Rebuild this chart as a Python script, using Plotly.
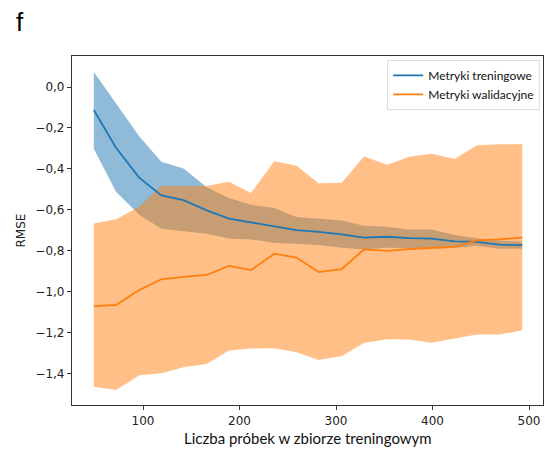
import plotly.graph_objects as go

train_sizes = [49, 72, 96, 119, 142, 166, 189, 212, 236, 259, 282, 306, 329, 353, 376, 399, 423, 446, 469, 493]

train_mean = [-0.112, -0.297, -0.443, -0.530, -0.553, -0.603, -0.643, -0.661, -0.679, -0.700,
              -0.708, -0.720, -0.736, -0.732, -0.739, -0.741, -0.755, -0.757, -0.771, -0.773]
train_upper = [0.074, -0.080, -0.240, -0.365, -0.398, -0.490, -0.542, -0.576, -0.592, -0.636,
               -0.646, -0.653, -0.678, -0.683, -0.696, -0.696, -0.724, -0.740, -0.751, -0.756]
train_lower = [-0.302, -0.512, -0.625, -0.693, -0.706, -0.718, -0.741, -0.745, -0.762, -0.769,
               -0.773, -0.786, -0.794, -0.786, -0.786, -0.788, -0.787, -0.776, -0.791, -0.791]

val_mean = [-1.071, -1.066, -0.993, -0.940, -0.928, -0.919, -0.875, -0.895, -0.815, -0.834,
            -0.905, -0.890, -0.794, -0.801, -0.792, -0.787, -0.782, -0.750, -0.745, -0.736]
val_upper = [-0.667, -0.647, -0.585, -0.484, -0.484, -0.484, -0.463, -0.518, -0.363, -0.385,
             -0.470, -0.468, -0.339, -0.380, -0.341, -0.326, -0.352, -0.285, -0.280, -0.280]
val_lower = [-1.466, -1.482, -1.409, -1.400, -1.370, -1.354, -1.288, -1.279, -1.278, -1.297,
             -1.335, -1.315, -1.252, -1.233, -1.235, -1.250, -1.230, -1.210, -1.210, -1.190]

y_ticks = [0.0, -0.2, -0.4, -0.6, -0.8, -1.0, -1.2, -1.4]
y_tick_labels = ["0,0", "\u22120,2", "\u22120,4", "\u22120,6", "\u22120,8", "\u22121,0", "\u22121,2", "\u22121,4"]
x_ticks = [100, 200, 300, 400, 500]

BLUE = "#1f77b4"
ORANGE = "#ff7f0e"

fig = go.Figure()

def band(upper, lower, color):
    return go.Scatter(
        x=train_sizes + train_sizes[::-1],
        y=upper + lower[::-1],
        fill="toself", fillcolor=color, line=dict(width=0),
        mode="lines", hoverinfo="skip", showlegend=False,
    )

fig.add_trace(band(train_upper, train_lower, "rgba(31,119,180,0.5)"))
fig.add_trace(band(val_upper, val_lower, "rgba(255,127,14,0.5)"))

fig.add_trace(go.Scatter(x=train_sizes, y=train_mean, mode="lines",
                         line=dict(color=BLUE, width=1.8), name="Metryki treningowe"))
fig.add_trace(go.Scatter(x=train_sizes, y=val_mean, mode="lines",
                         line=dict(color=ORANGE, width=1.8), name="Metryki walidacyjne"))

axis_common = dict(
    showgrid=False, zeroline=False, showline=True, linecolor="#333333", linewidth=1.2,
    mirror=True, ticks="outside", ticklen=4, tickcolor="#333333", tickwidth=1,
    tickfont=dict(family="DejaVu Sans", size=12, color="#222222"),
)

fig.update_layout(
    width=550, height=456,
    margin=dict(l=72, r=7, t=56, b=51),
    paper_bgcolor="white", plot_bgcolor="white",
    xaxis=dict(range=[26.4, 514.5], tickvals=x_ticks, **axis_common),
    yaxis=dict(range=[-1.555, 0.152], tickvals=y_ticks, ticktext=y_tick_labels, **axis_common),
    legend=dict(
        x=0.994, y=0.989, xanchor="right", yanchor="top",
        bgcolor="white", bordercolor="#dddddd", borderwidth=1,
        font=dict(family="Lato", size=12, color="#111111"),
        itemwidth=30, tracegroupgap=0,
    ),
    annotations=[
        dict(text="Liczba próbek w zbiorze treningowym", xref="paper", yref="paper",
             x=0.5, y=0, yshift=-33, xanchor="center", yanchor="middle", showarrow=False,
             font=dict(family="Lato", size=15, color="#111111")),
        dict(text="RMSE", xref="paper", yref="paper", x=0, xshift=-52, y=0.5,
             xanchor="center", yanchor="middle", textangle=-90, showarrow=False,
             font=dict(family="DejaVu Sans", size=12, color="#222222")),
        dict(text="f", xref="paper", yref="paper", x=0, xshift=-58, y=1, yshift=34,
             xanchor="left", yanchor="middle", showarrow=False,
             font=dict(family="Liberation Sans", size=26, color="#000000")),
    ],
)

fig.write_html("out.html")
